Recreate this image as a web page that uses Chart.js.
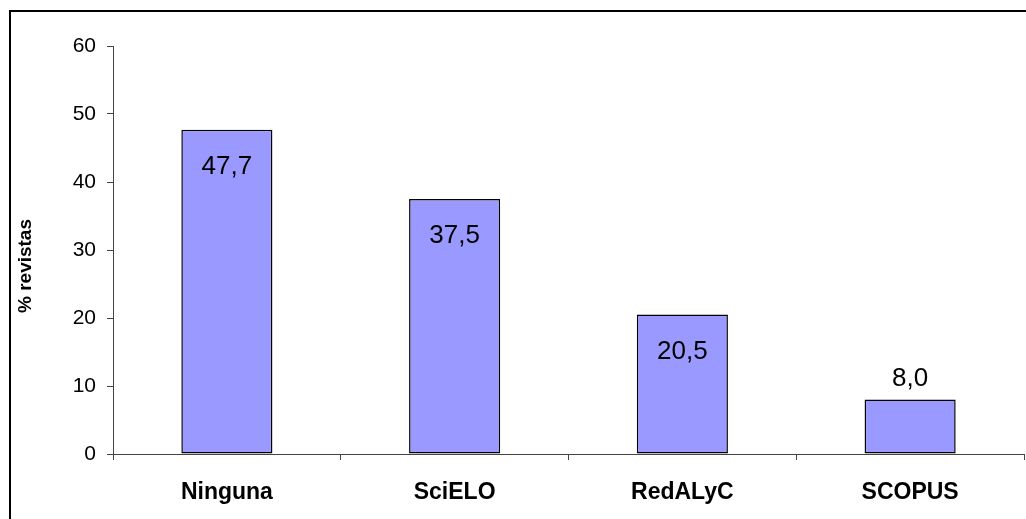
<!DOCTYPE html>
<html>
<head>
<meta charset="utf-8">
<script src="https://cdn.jsdelivr.net/npm/chart.js@4"></script>
<style>
  html, body { margin: 0; padding: 0; background: #fff; overflow: hidden; }
  #wrap { position: relative; width: 1026px; height: 519px; }
</style>
</head>
<body>
<div id="wrap"><canvas id="c" width="1026" height="519"></canvas></div>
<script>
const categories = ['Ninguna', 'SciELO', 'RedALyC', 'SCOPUS'];
const values = [47.7, 37.5, 20.5, 8.0];
const valueLabels = ['47,7', '37,5', '20,5', '8,0'];
const yTicks = [0, 10, 20, 30, 40, 50, 60];
const yTitle = '% revistas';

const framePlugin = {
  id: 'frame',
  beforeDraw(chart) {
    const ctx = chart.ctx;
    ctx.save();
    ctx.fillStyle = '#fff';
    ctx.fillRect(0, 0, chart.width, chart.height);
    ctx.strokeStyle = '#000';
    ctx.lineWidth = 2;
    ctx.strokeRect(10, 11, 2000, 2000);
    ctx.restore();
  },
  afterDraw(chart) {
    const ctx = chart.ctx;
    ctx.save();
    ctx.translate(26, 266);
    ctx.rotate(-Math.PI / 2);
    ctx.font = 'bold 19px "Liberation Sans", Arial, sans-serif';
    ctx.fillStyle = '#000';
    ctx.textAlign = 'center';
    ctx.textBaseline = 'middle';
    ctx.fillText(yTitle, 0, 0);
    ctx.restore();
  }
};

const labelPlugin = {
  id: 'barLabels',
  afterDatasetsDraw(chart) {
    const ctx = chart.ctx;
    const meta = chart.getDatasetMeta(0);
    ctx.save();
    ctx.font = '26px "Liberation Sans", Arial, sans-serif';
    ctx.fillStyle = '#000';
    ctx.textAlign = 'center';
    ctx.textBaseline = 'middle';
    meta.data.forEach((bar, i) => {
      const v = values[i];
      const y = v > 15 ? bar.y + 37 : bar.y - 21;
      ctx.fillText(valueLabels[i], bar.x, y);
    });
    ctx.restore();
  }
};

new Chart(document.getElementById('c'), {
  type: 'bar',
  data: {
    labels: categories,
    datasets: [{
      data: values,
      backgroundColor: '#9999FF',
      borderColor: '#000',
      borderWidth: 1.5,
      borderSkipped: false,
      categoryPercentage: 1,
      barPercentage: 0.4
    }]
  },
  options: {
    responsive: false,
    animation: false,
    events: [],
    layout: { padding: { top: 46, right: 2, left: 0, bottom: 0 } },
    plugins: { legend: { display: false }, tooltip: { enabled: false } },
    scales: {
      x: {
        offset: true,
        border: { display: true, color: '#444', width: 1 },
        grid: { display: true, drawOnChartArea: false, drawTicks: true, tickLength: 6, color: '#444', offset: true },
        ticks: { color: '#000', padding: 19, font: { family: '"Liberation Sans", Arial, sans-serif', size: 23, weight: 'bold' }, maxRotation: 0 },
        afterFit(scale) { scale.height = 65; }
      },
      y: {
        min: 0, max: 60,
        afterBuildTicks(scale) { scale.ticks = yTicks.map(v => ({ value: v })); },
        border: { display: true, color: '#444', width: 1 },
        grid: { display: true, drawOnChartArea: false, drawTicks: true, tickLength: 6, color: '#444' },
        ticks: { color: '#000', padding: 11, font: { family: '"Liberation Sans", Arial, sans-serif', size: 21 } },
        afterFit(scale) { scale.width = 113; }
      }
    }
  },
  plugins: [framePlugin, labelPlugin]
});
</script>
</body>
</html>
